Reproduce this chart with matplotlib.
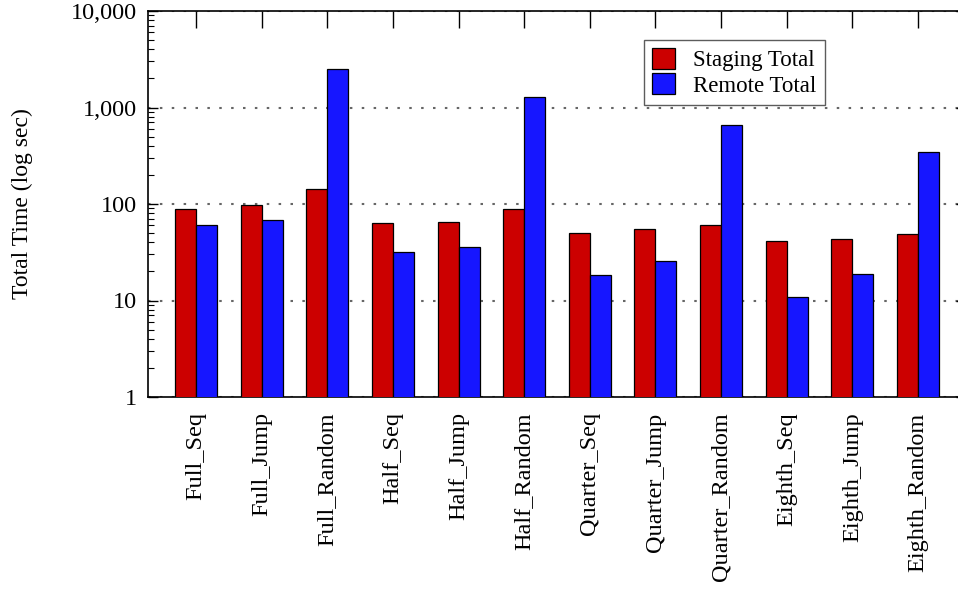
import numpy as np
import matplotlib
matplotlib.use("Agg")
import matplotlib.pyplot as plt
from matplotlib.ticker import FixedLocator, LogLocator, FuncFormatter, NullFormatter

# Data (seconds, log scale)
categories = ["Full_Seq", "Full_Jump", "Full_Random",
              "Half_Seq", "Half_Jump", "Half_Random",
              "Quarter_Seq", "Quarter_Jump", "Quarter_Random",
              "Eighth_Seq", "Eighth_Jump", "Eighth_Random"]
staging_total = [89, 98, 144, 64, 65, 88, 50, 55, 61, 41, 43, 49]
remote_total = [60, 68, 2500, 31.6, 36, 1280, 18.4, 25.7, 660, 10.9, 19, 343]
y_ticks = [1, 10, 100, 1000, 10000]

plt.rcParams['font.family'] = ['Liberation Serif', 'DejaVu Serif']

fig = plt.figure(figsize=(9.58, 5.89), dpi=100)
# right edge of the axes lies just outside the image, like the cropped original
ax = fig.add_axes([148/958, 1-397/589, (966-148)/958, (397-11)/589])

x = np.arange(len(categories))
w = 0.32
ax.bar(x - w/2, staging_total, w, color="#cc0000", edgecolor="black",
       linewidth=0.9, label="Staging Total", zorder=3)
ax.bar(x + w/2, remote_total, w, color="#1616ff", edgecolor="black",
       linewidth=0.9, label="Remote Total", zorder=3)

ax.set_yscale("log")
ax.set_ylim(1, 10000)
ax.set_xlim(-0.732, len(categories) - 1 + 0.732)

ax.yaxis.set_major_locator(FixedLocator(y_ticks))
ax.yaxis.set_major_formatter(FuncFormatter(lambda v, p: f"{int(v):,}"))
ax.yaxis.set_minor_locator(LogLocator(base=10, subs=np.arange(2, 10)))
ax.yaxis.set_minor_formatter(NullFormatter())

ax.set_xticks(x)
ax.set_xticklabels(categories, rotation=90, fontsize=17.5)
ax.tick_params(axis="x", which="major", direction="in", top=True, bottom=False,
               length=12, width=1, pad=11)
ax.tick_params(axis="y", which="major", direction="in", right=True,
               length=7, width=1, labelsize=17.5, pad=8)
ax.tick_params(axis="y", which="minor", direction="in", right=True,
               length=4, width=0.8)

ax.grid(axis="y", which="major", color="#666666", linewidth=1.5,
        linestyle=(0, (1.2, 4.5)), zorder=0)

for s in ax.spines.values():
    s.set_linewidth(1.2)

ax.set_ylabel("Total Time (log sec)", fontsize=17)
ax.yaxis.set_label_coords((33-148)/818, 0.5)

leg = ax.legend(loc="upper left", bbox_to_anchor=((644-148)/818, (397-40)/386),
                fontsize=16.5, frameon=True, fancybox=False, borderpad=0.35,
                handlelength=1.0, handleheight=1.0, handletextpad=0.8,
                labelspacing=0.1, borderaxespad=0)
leg.get_frame().set_edgecolor("#333333")
leg.get_frame().set_linewidth(1.0)

fig.savefig("out.png", dpi=100)
